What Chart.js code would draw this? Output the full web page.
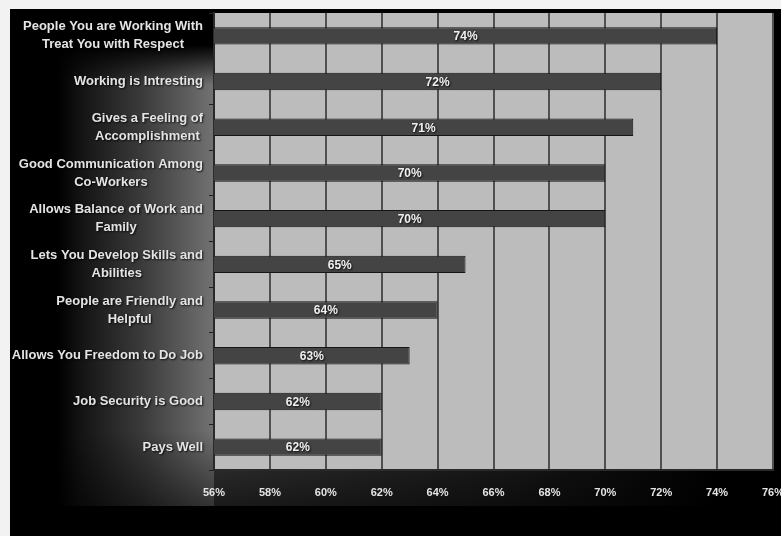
<!DOCTYPE html>
<html>
<head>
<meta charset="utf-8">
<script src="https://cdn.jsdelivr.net/npm/chart.js@4"></script>
<style>
  html, body { margin: 0; padding: 0; background: #f2f2f2; }
  #wrap { width: 781px; height: 536px; }
</style>
</head>
<body>
<div id="wrap"><canvas id="bars" width="781" height="536"></canvas></div>
<script>
// categories (top to bottom) and their percentages
const categories = [
  ['People You are Working With', 'Treat You with Respect'],
  ['Working is Intresting'],
  ['Gives a Feeling of', 'Accomplishment'],
  ['Good Communication Among', 'Co-Workers'],
  ['Allows Balance of Work and', 'Family'],
  ['Lets You Develop Skills and', 'Abilities'],
  ['People are Friendly and', 'Helpful'],
  ['Allows You Freedom to Do Job'],
  ['Job Security is Good'],
  ['Pays Well']
];
const values = [74, 72, 71, 70, 70, 65, 64, 63, 62, 62];
const xTickLabels = ['56%', '58%', '60%', '62%', '64%', '66%', '68%', '70%', '72%', '74%', '76%'];

const fontFamily = '"Liberation Sans", Arial, sans-serif';

// dark backdrop with the grey glow behind the labels
const backdrop = {
  id: 'backdrop',
  beforeDraw(chart) {
    const ctx = chart.ctx;
    const ca = chart.chartArea;
    const glowTop = 45, glowBottom = 506, glowLeft = 58;
    ctx.save();
    ctx.fillStyle = '#f2f2f2';
    ctx.fillRect(0, 0, chart.width, chart.height);
    ctx.fillStyle = '#000';
    ctx.fillRect(10, 9, chart.width - 10, chart.height - 9);

    // glow behind the category labels
    const gh = ctx.createLinearGradient(glowLeft, 0, ca.left, 0);
    gh.addColorStop(0, '#000');
    gh.addColorStop(0.15, '#141414');
    gh.addColorStop(0.55, '#3c3c3c');
    gh.addColorStop(1, '#727272');
    ctx.fillStyle = gh;
    ctx.fillRect(glowLeft, glowTop, ca.left - glowLeft, glowBottom - glowTop);

    // strip under the tick labels
    const gs = ctx.createLinearGradient(ca.left, 0, 720, 0);
    gs.addColorStop(0, '#3a3a3a');
    gs.addColorStop(0.6, '#1c1c1c');
    gs.addColorStop(1, '#000');
    ctx.fillStyle = gs;
    ctx.fillRect(ca.left, ca.bottom, 720 - ca.left, glowBottom - ca.bottom);

    // fade top and bottom
    const gt = ctx.createLinearGradient(0, glowTop, 0, glowTop + 40);
    gt.addColorStop(0, 'rgba(0,0,0,1)');
    gt.addColorStop(1, 'rgba(0,0,0,0)');
    ctx.fillStyle = gt;
    ctx.fillRect(glowLeft, glowTop, ca.left - glowLeft, 40);
    const gd = ctx.createLinearGradient(0, ca.bottom - 40, 0, glowBottom);
    gd.addColorStop(0, 'rgba(0,0,0,0)');
    gd.addColorStop(1, 'rgba(0,0,0,0.55)');
    ctx.fillStyle = gd;
    ctx.fillRect(glowLeft, ca.bottom - 40, 720 - glowLeft, glowBottom - ca.bottom + 40);

    // plot background
    ctx.fillStyle = '#bcbcbc';
    ctx.fillRect(ca.left, ca.top, ca.right - ca.left, ca.bottom - ca.top);
    ctx.restore();
  }
};

// category labels: right-aligned block, lines centred; value labels in bars
const textLabels = {
  id: 'textLabels',
  afterDraw(chart) {
    const ctx = chart.ctx;
    const yScale = chart.scales.y;
    const ca = chart.chartArea;
    ctx.save();
    ctx.textBaseline = 'middle';
    ctx.textAlign = 'center';
    ctx.shadowColor = 'rgba(0,0,0,0.85)';
    ctx.shadowBlur = 2;
    ctx.shadowOffsetX = 1;
    ctx.shadowOffsetY = 1;
    ctx.fillStyle = '#e4e4e4';
    ctx.font = 'bold 13px ' + fontFamily;
    const lineH = 18;
    categories.forEach((lines, i) => {
      const yc = yScale.getPixelForValue(i);
      const w = Math.max(...lines.map(l => ctx.measureText(l).width));
      const xc = ca.left - 11 - w / 2;
      const y0 = yc - (lines.length - 1) * lineH / 2;
      lines.forEach((l, k) => ctx.fillText(l, xc, y0 + k * lineH));
    });

    const meta = chart.getDatasetMeta(0);
    ctx.font = 'bold 12px ' + fontFamily;
    ctx.fillStyle = '#f0f0f0';
    meta.data.forEach((bar, i) => {
      const left = Math.max(bar.base, ca.left);
      ctx.fillText(values[i] + '%', (left + bar.x) / 2, bar.y + 1);
    });
    ctx.restore();
  }
};

new Chart(document.getElementById('bars').getContext('2d'), {
  type: 'bar',
  data: {
    labels: categories,
    datasets: [{
      data: values,
      backgroundColor: '#444444',
      borderColor: '#151515',
      borderWidth: 1,
      borderSkipped: false,
      barPercentage: 0.38,
      categoryPercentage: 1
    }]
  },
  options: {
    indexAxis: 'y',
    responsive: false,
    animation: false,
    layout: { padding: { left: 10, top: 13, right: 8, bottom: 26 } },
    plugins: { legend: { display: false }, tooltip: { enabled: false } },
    scales: {
      x: {
        min: 56,
        max: 76,
        ticks: {
          stepSize: 2,
          autoSkip: false,
          maxRotation: 0,
          padding: 16,
          color: '#e4e4e4',
          font: { family: fontFamily, size: 11, weight: 'bold' },
          callback: (v, i) => xTickLabels[i]
        },
        grid: { color: '#505050', lineWidth: 2, drawTicks: false },
        border: { display: true, color: '#2a2a2a', width: 2 },
        afterFit(scale) {
          scale.height = 40;
          scale.paddingLeft = 0;
          scale.paddingRight = 0;
        }
      },
      y: {
        ticks: { display: false },
        grid: { offset: true, drawOnChartArea: false, drawTicks: true, tickLength: 5, color: '#222' },
        border: { display: true, color: '#2a2a2a', width: 2 },
        afterFit(scale) {
          scale.width = 204;
        }
      }
    }
  },
  plugins: [backdrop, textLabels]
});
</script>
</body>
</html>
